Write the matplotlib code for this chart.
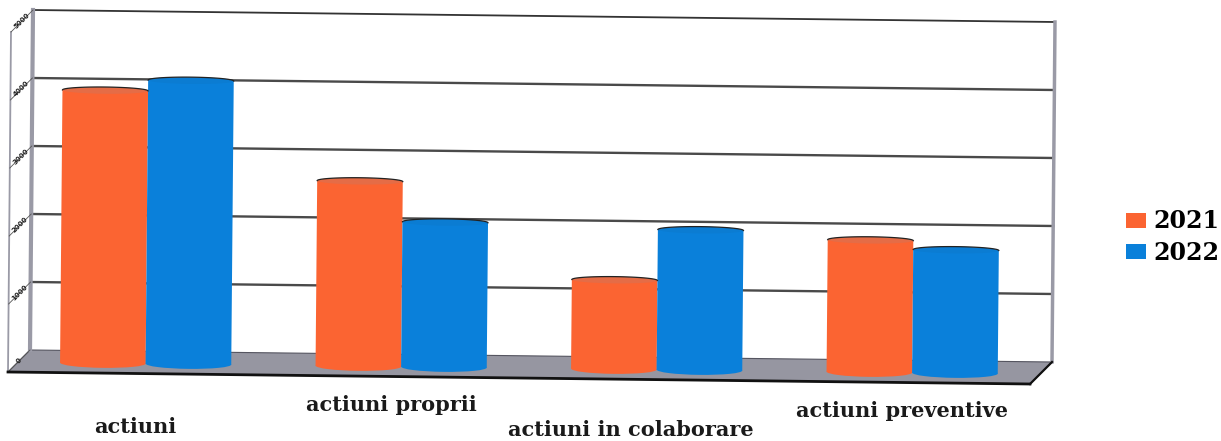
import numpy as np

import matplotlib
matplotlib.use("Agg")
import matplotlib.pyplot as plt
from matplotlib.patches import Ellipse, Polygon
from matplotlib.transforms import Affine2D

categories = ["actiuni", "actiuni proprii", "actiuni in colaborare", "actiuni preventive"]
series_names = ["2021", "2022"]
values_2021 = [4010, 2720, 1310, 1940]
values_2022 = [4170, 2130, 2060, 1810]
y_ticks = [0, 1000, 2000, 3000, 4000, 5000]

ORANGE = "#FB6432"
BLUE = "#0A80DA"
ORANGE_TOP = "#E56C46"
BLUE_TOP = "#0B7CD2"
BAR_W = 0.335
CAP = 100  # ellipse height, in value units
label_xy = [(135, 427), (391, 405), (631, 430), (902, 411)]


def plane(ax, depth):
    # category/value -> pixels, slightly tilted like the scanned page
    return Affine2D.from_values(255.5, 3, 0.0006, -0.068,
                                8 + 22 * depth, 372 - 22 * depth) + ax.transData


fig = plt.figure(figsize=(12.21, 4.41), dpi=100)
ax = fig.add_axes([0, 0, 1, 1])
ax.axis("off")
ax.set_xlim(0, 1221)
ax.set_ylim(441, 0)

front, back, mid = plane(ax, 0), plane(ax, 1), plane(ax, 0.45)
to_px = ax.transData.inverted()

# floor
corners = to_px.transform(front.transform([(0, 0), (4, 0)]).tolist() + back.transform([(4, 0), (0, 0)]).tolist())
ax.add_patch(Polygon(corners, closed=True, fc="#9696A1", ec="#555560", lw=0.8, zorder=1))
ax.plot([0, 4], [0, 0], color="#111111", lw=2, transform=front, zorder=3)

# walls and grid
for t in y_ticks[1:]:
    col, lw = ("#333333", 1.3) if t == y_ticks[-1] else ("#4A4A4A", 1.7)
    ax.plot([0, 4], [t, t], color=col, lw=lw, transform=back, zorder=1)
for p, tr, col, lw in [(0, back, "#9A9AA6", 3), (4, back, "#9A9AA6", 2.5), (0, front, "#9A9AA6", 1.3)]:
    ax.plot([p, p], [0, y_ticks[-1]], color=col, lw=lw, transform=tr, zorder=1)
for t in y_ticks:
    a, b = to_px.transform([front.transform((0, t)), back.transform((0, t))])
    ax.plot([a[0], b[0]], [a[1], b[1]], color="#555555", lw=0.6, zorder=1)
    ax.text((a[0] + b[0]) / 2, (a[1] + b[1]) / 2, str(t), fontsize=5, rotation=45, ha="center", va="center",
            color="#222222", fontweight="bold", zorder=2)
a, b = to_px.transform([front.transform((4, 0)), back.transform((4, 0))])
ax.plot([a[0], b[0]], [a[1], b[1]], color="#111111", lw=1.6, zorder=3)

# cylinders
x = np.arange(len(categories)) + 0.5
theta = np.linspace(0, np.pi, 40)
for name, vals, off, col, top in [(series_names[0], values_2021, -BAR_W / 2, ORANGE, ORANGE_TOP),
                                  (series_names[1], values_2022, BAR_W / 2, BLUE, BLUE_TOP)]:
    ax.bar(x + off, vals, BAR_W, color=col, transform=mid, label=name, zorder=4)
    for xi, v in zip(x + off, vals):
        ax.add_patch(Ellipse((xi, 0), BAR_W, CAP * 1.4, fc=col, ec="none", transform=mid, zorder=4))
        ax.add_patch(Ellipse((xi, v), BAR_W, CAP, fc=top, ec="none", transform=mid, zorder=5))
        ax.plot(xi + BAR_W / 2 * np.cos(theta), v + CAP / 2 * np.sin(theta),
                color="#222222", lw=0.9, transform=mid, zorder=6)

for name, (lx, ly) in zip(categories, label_xy):
    ax.text(lx, ly, name, ha="center", va="center", family="DejaVu Serif",
            fontweight="bold", fontsize=15, color="#1a1a1a")

ax.set_xlim(0, 1221)
ax.set_ylim(441, 0)

ax.legend(loc="center left", bbox_to_anchor=(1105 / 1221, 1 - 237 / 441), frameon=False,
          prop={"family": "DejaVu Serif", "weight": "bold", "size": 17},
          handlelength=0.85, handleheight=0.6, handletextpad=0.3, labelspacing=0.3)

fig.savefig("out.png", dpi=100)
